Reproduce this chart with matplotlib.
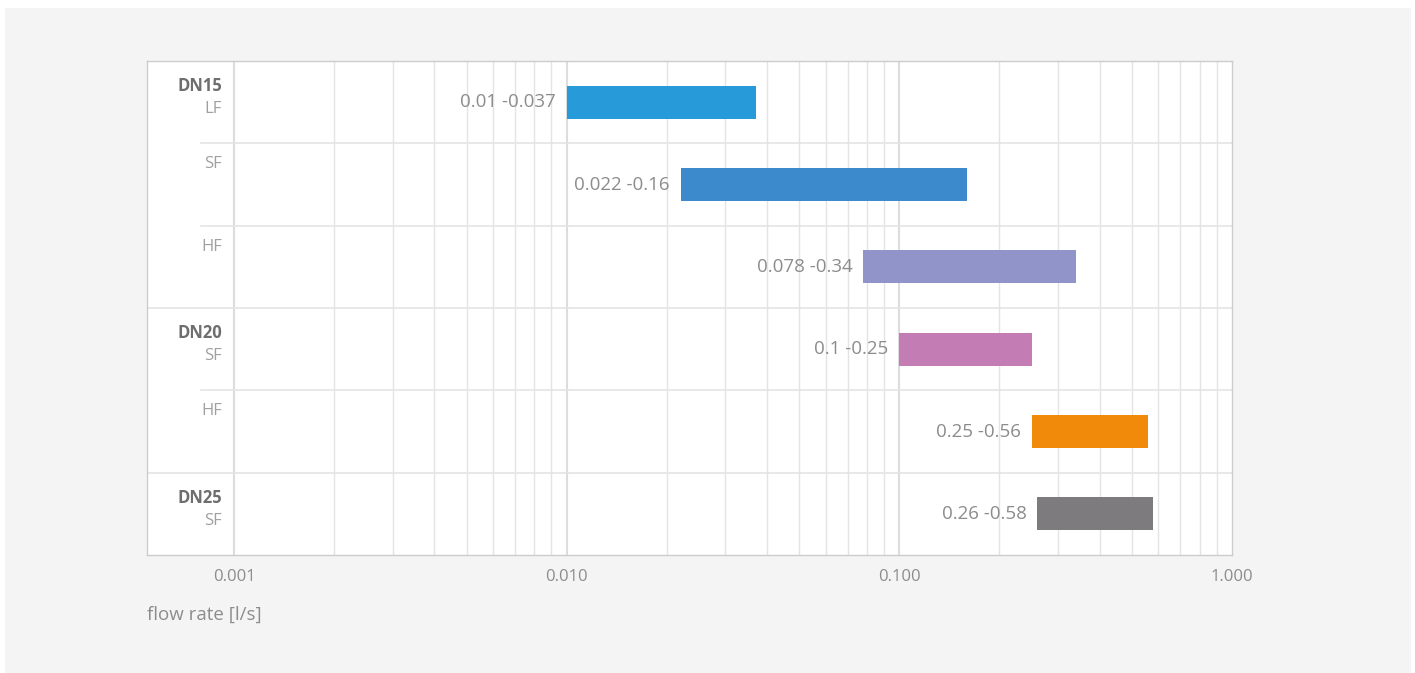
import numpy as np
import matplotlib.pyplot as plt
from matplotlib.patches import Rectangle

# data
groups = ["DN15", "", "", "DN20", "", "DN25"]
series = ["LF", "SF", "HF", "SF", "HF", "SF"]
low = [0.01, 0.022, 0.078, 0.1, 0.25, 0.26]
high = [0.037, 0.16, 0.34, 0.25, 0.56, 0.58]
colors = ["#279bd9", "#3c8acb", "#9194c9", "#c37db4", "#f18a0b", "#7d7b7e"]
tick_vals = [0.001, 0.01, 0.1, 1.0]
tick_labels = ["0.001", "0.010", "0.100", "1.000"]

W, H = 1415, 673
fig = plt.figure(figsize=(W / 100, H / 100), dpi=100)
fig.patch.set_facecolor("white")

# grey panel behind everything
fig.patches.append(Rectangle((5 / W, 0), 1406 / W, (H - 8) / H,
                             transform=fig.transFigure, facecolor="#f4f4f4",
                             edgecolor="none", zorder=-10))

ax = fig.add_axes([147 / W, (H - 555) / H, (1232 - 147) / W, (555 - 61) / H])
ax.set_facecolor("white")
ax.set_xscale("log")
left_lim = 10 ** (-3 - 87 / 332.67)
ax.set_xlim(left_lim, 1.0)
ax.set_ylim(len(series) - 0.5, -0.5)

for s in ax.spines.values():
    s.set_color("#cccccc")
    s.set_linewidth(1.0)

# vertical grid (only from 0.001 upwards)
for d in [0.001, 0.01, 0.1]:
    ax.axvline(d, color="#dddddd", lw=1.5, zorder=0)
    for m in range(2, 10):
        ax.axvline(d * m, color="#e4e4e4", lw=1.0, zorder=0)

# horizontal row separators
for i in range(len(series) - 1):
    full = groups[i + 1] != ""
    ax.axhline(i + 0.5, xmin=0 if full else 54 / 1085, color="#e4e4e4",
               lw=1.2, zorder=0)

lo = np.array(low)
hi = np.array(high)
ax.barh(range(len(series)), hi - lo, left=lo, height=0.4, color=colors, zorder=2)

font = "Open Sans"
txt_col = "#8c8c8c"
for i in range(len(series)):
    ax.annotate(f"{low[i]:g} -{high[i]:g}", xy=(low[i], i), xytext=(-11, 0),
                textcoords="offset pixels", ha="right", va="center",
                fontsize=13.5, color=txt_col, family=font, zorder=3)
    # row labels
    if groups[i]:
        ax.annotate(groups[i], xy=(0, i - 0.5), xycoords=("axes fraction", "data"),
                    xytext=(75, -25), textcoords="offset pixels", ha="right",
                    va="center", fontsize=12, color="#6e6e6e", family=font,
                    weight="bold")
        ax.annotate(series[i], xy=(0, i - 0.5), xycoords=("axes fraction", "data"),
                    xytext=(75, -48), textcoords="offset pixels", ha="right",
                    va="center", fontsize=12, color="#a0a0a0", family=font)
    else:
        ax.annotate(series[i], xy=(0, i - 0.5), xycoords=("axes fraction", "data"),
                    xytext=(75, -21), textcoords="offset pixels", ha="right",
                    va="center", fontsize=12, color="#a0a0a0", family=font)

ax.set_yticks([])
ax.set_xticks(tick_vals)
ax.set_xticklabels(tick_labels, fontsize=12, color=txt_col, family=font)
ax.xaxis.set_minor_locator(plt.NullLocator())
ax.tick_params(axis="x", length=0, pad=10)

fig.text(147 / W, 1 - 615 / H, "flow rate [l/s]", ha="left", va="center",
         fontsize=13.5, color=txt_col, family=font)

fig.savefig("out.png", dpi=100, facecolor=fig.get_facecolor())
